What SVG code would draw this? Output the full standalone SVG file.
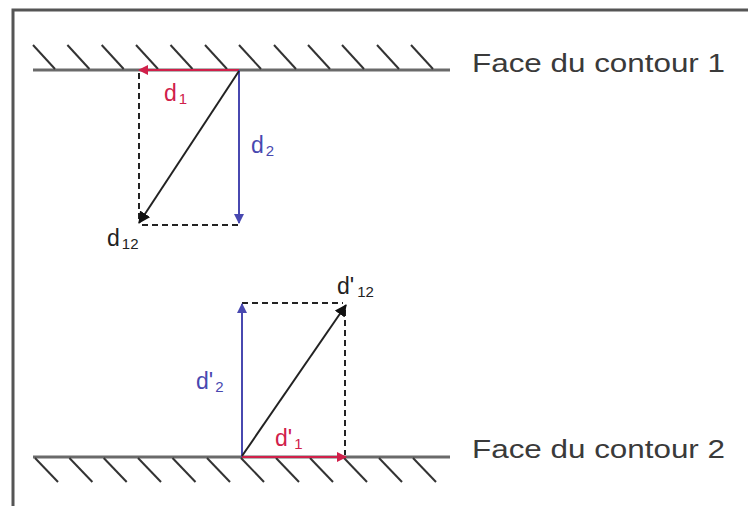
<svg xmlns="http://www.w3.org/2000/svg" width="748" height="506" viewBox="0 0 748 506">
<style>
.surf{stroke:#6a6a6a;stroke-width:3;fill:none}
.hatch{stroke:#333;stroke-width:2}
.red{stroke:#d0204a;stroke-width:2;fill:none}
.blue{stroke:#4848b0;stroke-width:2;fill:none}
.blk{stroke:#222;stroke-width:2;fill:none}
.dash{stroke:#222;stroke-width:2;stroke-dasharray:6,4;fill:none}
.lbl{font-family:"Liberation Sans",Arial,sans-serif;font-size:23px}
.sub{font-size:15px}
.face{font-family:"Liberation Sans",Arial,sans-serif;font-size:25px;fill:#3a3a3a}
</style>
<defs>
<marker id="aR" markerWidth="10" markerHeight="10" refX="9" refY="5" orient="auto" markerUnits="userSpaceOnUse"><path d="M0,0 L10,5 L0,10 z" fill="#d0204a"/></marker>
<marker id="aB" markerWidth="10" markerHeight="10" refX="9" refY="5" orient="auto" markerUnits="userSpaceOnUse"><path d="M0,0 L10,5 L0,10 z" fill="#4848b0"/></marker>
<marker id="aK" markerWidth="12" markerHeight="12" refX="11" refY="6" orient="auto" markerUnits="userSpaceOnUse"><path d="M0,0 L12,6 L0,12 z" fill="#111"/></marker>
</defs>
<rect x="0" y="0" width="748" height="506" fill="#fff"/>
<rect x="13" y="10" width="760" height="520" fill="none" stroke="#555" stroke-width="3"/>

<g id="surface1">
<line class="surf" x1="33" y1="70" x2="450" y2="70"/>
<g class="hatch">
<line x1="33" y1="45" x2="55" y2="69"/>
<line x1="67.4" y1="45" x2="89.4" y2="69"/>
<line x1="101.7" y1="45" x2="123.7" y2="69"/>
<line x1="136" y1="45" x2="158" y2="69"/>
<line x1="170.5" y1="45" x2="192.5" y2="69"/>
<line x1="205" y1="45" x2="227" y2="69"/>
<line x1="239" y1="45" x2="261" y2="69"/>
<line x1="274" y1="45" x2="296" y2="69"/>
<line x1="308" y1="45" x2="330" y2="69"/>
<line x1="342" y1="45" x2="364" y2="69"/>
<line x1="377" y1="45" x2="399" y2="69"/>
<line x1="411" y1="45" x2="433" y2="69"/>
</g>
<text class="face" x="472" y="72" textLength="253" lengthAdjust="spacingAndGlyphs">Face du contour 1</text>
</g>

<g id="surface2">
<line class="surf" x1="33" y1="457" x2="450" y2="457"/>
<g class="hatch">
<line x1="35" y1="458" x2="58" y2="482"/>
<line x1="69.4" y1="458" x2="92.4" y2="482"/>
<line x1="103.7" y1="458" x2="126.7" y2="482"/>
<line x1="138" y1="458" x2="161" y2="482"/>
<line x1="172.5" y1="458" x2="195.5" y2="482"/>
<line x1="207" y1="458" x2="230" y2="482"/>
<line x1="241" y1="458" x2="264" y2="482"/>
<line x1="276" y1="458" x2="299" y2="482"/>
<line x1="310" y1="458" x2="333" y2="482"/>
<line x1="344" y1="458" x2="367" y2="482"/>
<line x1="379" y1="458" x2="402" y2="482"/>
<line x1="413" y1="458" x2="436" y2="482"/>
</g>
<text class="face" x="472" y="458" textLength="253" lengthAdjust="spacingAndGlyphs">Face du contour 2</text>
</g>

<g id="connectors">
<line class="dash" x1="139" y1="73" x2="139" y2="222"/>
<line class="dash" x1="142" y1="225" x2="239" y2="225"/>
<line class="red" x1="239" y1="70" x2="139" y2="70" marker-end="url(#aR)"/>
<line class="blue" x1="239" y1="70" x2="239" y2="223" marker-end="url(#aB)"/>
<line class="blk" x1="239" y1="71" x2="139" y2="223" marker-end="url(#aK)"/>

<line class="dash" x1="242" y1="303" x2="343" y2="303"/>
<line class="dash" x1="345" y1="310" x2="345" y2="455"/>
<line class="blue" x1="242" y1="457" x2="242" y2="304" marker-end="url(#aB)"/>
<line class="red" x1="242" y1="457" x2="346" y2="457" marker-end="url(#aR)"/>
<line class="blk" x1="242" y1="456" x2="346" y2="305" marker-end="url(#aK)"/>
</g>

<g id="labels">
<text class="lbl" x="164" y="101" fill="#d0204a">d<tspan class="sub" dx="2" dy="3">1</tspan></text>
<text class="lbl" x="251" y="153" fill="#4848b0">d<tspan class="sub" dx="2" dy="3">2</tspan></text>
<text class="lbl" x="107" y="246" fill="#222">d<tspan class="sub" dx="2" dy="3">12</tspan></text>
<text class="lbl" x="337" y="294" fill="#222">d'<tspan class="sub" dx="3" dy="3">12</tspan></text>
<text class="lbl" x="196" y="389" fill="#4848b0">d'<tspan class="sub" dx="2" dy="3">2</tspan></text>
<text class="lbl" x="275" y="446" fill="#d0204a">d'<tspan class="sub" dx="2" dy="3">1</tspan></text>
</g>
</svg>
